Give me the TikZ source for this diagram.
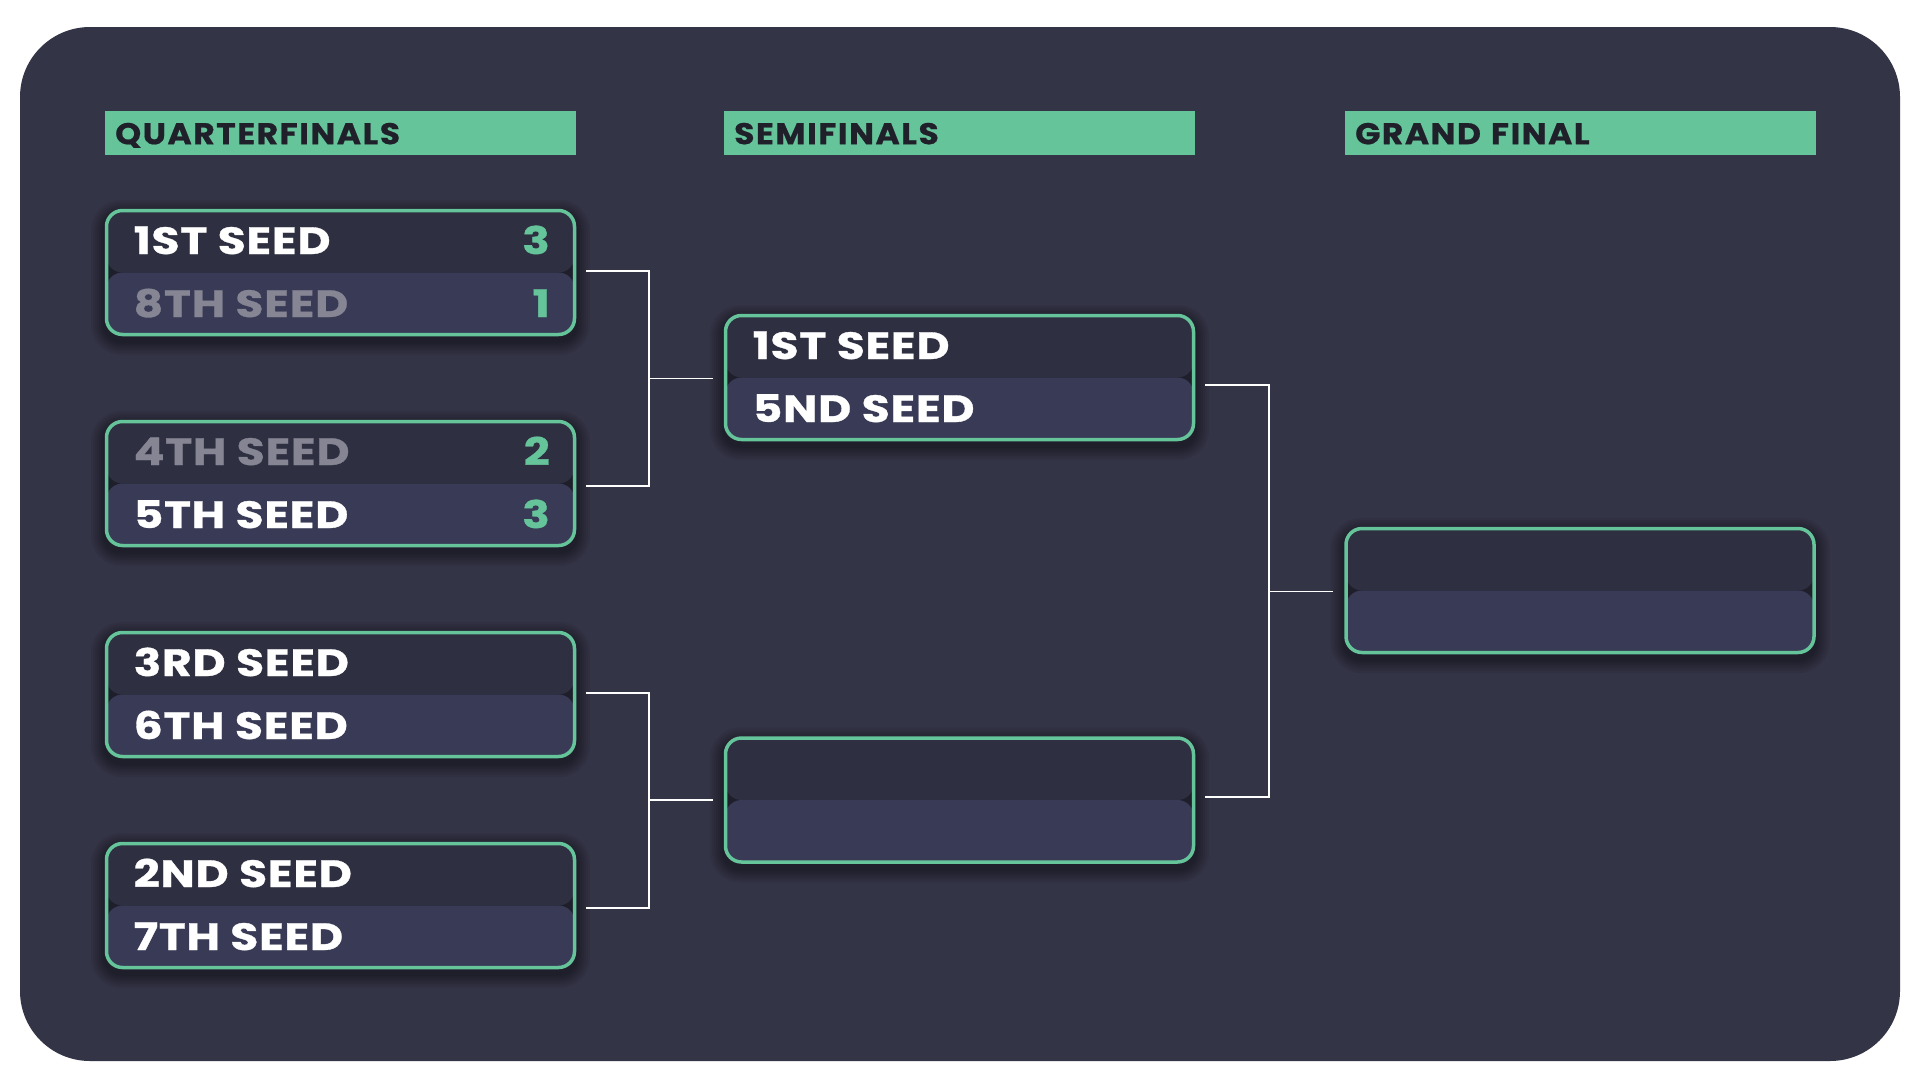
\documentclass[tikz,border=0pt]{standalone}
\usepackage{fontspec}
\setmainfont{Poppins}
\newfontfamily\seedfont{Poppins}[FakeStretch=1.2, LetterSpace=2, BoldFeatures={FakeBold=0.8}]
\newfontfamily\hdrfont{Poppins}[FakeStretch=1.1, LetterSpace=5, BoldFeatures={FakeBold=0.6}]
\usetikzlibrary{calc}
\definecolor{panelbg}{HTML}{343447}
\definecolor{rowA}{HTML}{2E2F41}
\definecolor{rowB}{HTML}{383A56}
\definecolor{accent}{HTML}{66C49B}
\definecolor{losertxt}{HTML}{858594}
\definecolor{hdrtxt}{HTML}{1F2029}
\newcommand{\matchbox}[3]{%
  \foreach \i in {1,...,7}{%
    \pgfmathsetmacro{\rr}{16+2*\i}%
    \fill[black, opacity=0.06, rounded corners=\rr pt]
      ($(#2,#3)+(-235.5-2*\i,-63.5-2*\i+5)$) rectangle ($(#2,#3)+(235.5+2*\i,63.5+2*\i+5)$);
  }%
  \node[matchnode] (#1) at (#2,#3) {};
}
\begin{document}
\begin{tikzpicture}[x=1pt,y=-1pt,
  hdr/.style={fill=accent, anchor=north west, minimum height=44pt,
    text width=451pt, inner xsep=10pt, inner ysep=0pt, align=left,
    text height=22pt, text depth=0pt, text=hdrtxt,
    font=\fontsize{30}{30}\hdrfont\bfseries},
  matchnode/.style={minimum width=468pt, minimum height=124pt,
    rounded corners=16pt, draw=accent, line width=3.5pt,
    path picture={
      \fill[rowA] (path picture bounding box.north west) rectangle (path picture bounding box.east);
      \fill[rowB] (path picture bounding box.west) rectangle (path picture bounding box.south east);
    }},
  seed/.style={anchor=base west, inner sep=0pt, font=\fontsize{38}{38}\seedfont\bfseries, text=white},
  lose/.style={seed, text=losertxt},
  score/.style={anchor=base east, inner sep=0pt, font=\fontsize{38}{38}\seedfont\bfseries, text=accent},
  conn/.style={draw=white, line width=1.6pt}
]
\useasboundingbox (0,0) rectangle (1920,1080);
\fill[white] (0,0) rectangle (1920,1080);
\fill[panelbg, rounded corners=70pt] (20,27) rectangle (1900,1061);

% headers
\node[hdr] (hqf) at (105,111) {QUARTERFINALS};
\node[hdr] (hsf) at (724,111) {SEMIFINALS};
\node[hdr] (hgf) at (1345,111) {GRAND FINAL};

% match boxes
\matchbox{qf1}{340.5}{272.5}
\matchbox{qf2}{340.5}{483.5}
\matchbox{qf3}{340.5}{694.5}
\matchbox{qf4}{340.5}{905.5}
\matchbox{sf1}{959.5}{377.5}
\matchbox{sf2}{959.5}{800}
\matchbox{gf}{1580}{590.5}

% texts
\node[seed]  (q1a) at ($(qf1.center)+(-207,-18.5)$) {1ST SEED};
\node[lose]  (q1b) at ($(qf1.center)+(-207,44.5)$) {8TH SEED};
\node[score] (q1as) at ($(qf1.center)+(209.5,-18.5)$) {3};
\node[score] (q1bs) at ($(qf1.center)+(209.5,44.5)$) {1};

\node[lose]  (q2a) at ($(qf2.center)+(-207,-18.5)$) {4TH SEED};
\node[seed]  (q2b) at ($(qf2.center)+(-207,44.5)$) {5TH SEED};
\node[score] (q2as) at ($(qf2.center)+(209.5,-18.5)$) {2};
\node[score] (q2bs) at ($(qf2.center)+(209.5,44.5)$) {3};

\node[seed]  (q3a) at ($(qf3.center)+(-207,-18.5)$) {3RD SEED};
\node[seed]  (q3b) at ($(qf3.center)+(-207,44.5)$) {6TH SEED};

\node[seed]  (q4a) at ($(qf4.center)+(-207,-18.5)$) {2ND SEED};
\node[seed]  (q4b) at ($(qf4.center)+(-207,44.5)$) {7TH SEED};

\node[seed]  (s1a) at ($(sf1.center)+(-207,-18.5)$) {1ST SEED};
\node[seed]  (s1b) at ($(sf1.center)+(-207,44.5)$) {5ND SEED};

% connectors
\coordinate (j1) at (649,378.5);
\coordinate (j2) at (649,800);
\coordinate (j3) at (1269,591.5);
\draw[conn] ([xshift=10pt,yshift=1.5pt]qf1.east) -| (j1) |- ([xshift=10pt,yshift=-2.5pt]qf2.east);
\draw[conn] (j1) -- ($(j1 -| sf1.west)+(-11,0)$);
\draw[conn] ([xshift=10pt,yshift=1.5pt]qf3.east) -| (j2) |- ([xshift=10pt,yshift=-2.5pt]qf4.east);
\draw[conn] (j2) -- ($(j2 -| sf2.west)+(-11,0)$);
\draw[conn] ([xshift=10pt,yshift=-7.5pt]sf1.east) -| (j3) |- ([xshift=10pt,yshift=3.3pt]sf2.east);
\draw[conn] (j3) -- ($(j3 -| gf.west)+(-11,0)$);
\end{tikzpicture}
\end{document}
